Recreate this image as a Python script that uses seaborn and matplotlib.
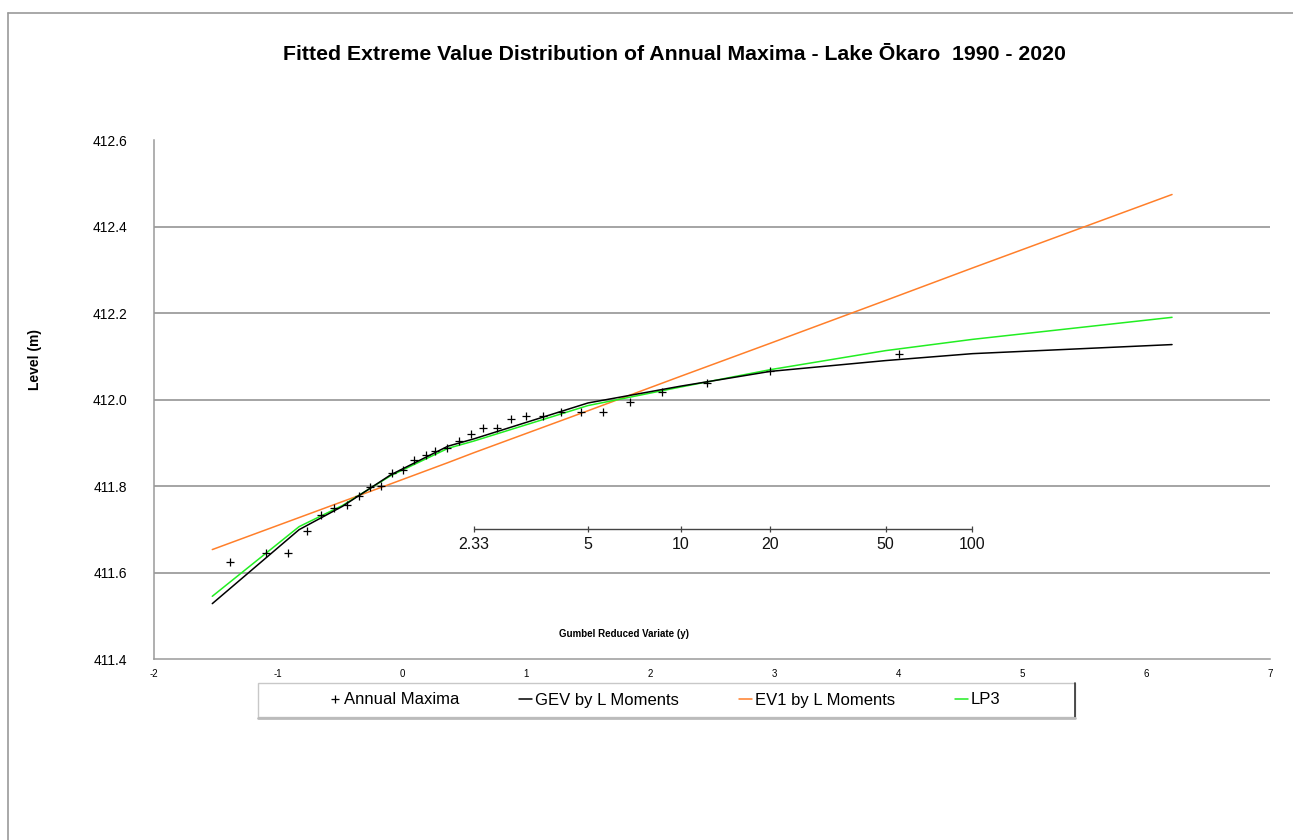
import matplotlib
matplotlib.use("Agg")
import matplotlib.pyplot as plt
import pandas as pd
import seaborn as sns
from matplotlib.lines import Line2D
from matplotlib.patches import Rectangle

# Annual maxima: Gumbel reduced variate and lake level (m)
obs_variate = [-1.39, -1.10, -0.92, -0.77, -0.65, -0.55, -0.44, -0.35, -0.26, -0.17,
               -0.08, 0.01, 0.10, 0.19, 0.27, 0.36, 0.46, 0.56, 0.65, 0.77,
               0.88, 1.00, 1.14, 1.28, 1.44, 1.62, 1.84, 2.10, 2.46, 2.97, 4.01]
obs_level = [411.625, 411.646, 411.646, 411.695, 411.732, 411.748, 411.757, 411.776,
             411.797, 411.801, 411.831, 411.838, 411.861, 411.871, 411.882, 411.889,
             411.905, 411.921, 411.933, 411.935, 411.956, 411.961, 411.963, 411.970,
             411.972, 411.972, 411.995, 412.018, 412.037, 412.067, 412.106]

# Fitted distributions evaluated at fixed reduced variates
fit_variate = [-1.53, -0.83, -0.48, -0.09, 0.37, 0.58, 1.50, 2.25, 2.97, 3.90, 4.60, 6.21]
gev_level = [411.528, 411.699, 411.753, 411.826, 411.892, 411.909, 411.992,
             412.031, 412.065, 412.090, 412.106, 412.127]
ev1_level = [411.653, 411.727, 411.764, 411.805, 411.854, 411.877, 411.974,
             412.054, 412.130, 412.229, 412.304, 412.474]
lp3_level = [411.545, 411.706, 411.755, 411.824, 411.887, 411.904, 411.986,
             412.029, 412.069, 412.113, 412.139, 412.190]

# Return period scale (years) placed at its reduced variate
rp_labels = ["2.33", "5", "10", "20", "50", "100"]
rp_variate = [0.58, 1.50, 2.25, 2.97, 3.90, 4.60]
rp_level = 411.70

y_ticks = [411.4, 411.6, 411.8, 412.0, 412.2, 412.4, 412.6]
x_ticks = [-2, -1, 0, 1, 2, 3, 4, 5, 6, 7]

GEV_C, EV1_C, LP3_C = "#000000", "#FF7F2A", "#22EE22"

sns.set_theme(style="white")
plt.rcParams["font.family"] = ["Liberation Sans", "DejaVu Sans"]
plt.rcParams["text.color"] = "black"
plt.rcParams["xtick.color"] = "black"
plt.rcParams["ytick.color"] = "black"

W, H = 1293, 840
fig = plt.figure(figsize=(W / 100, H / 100), dpi=100)
fig.patch.set_facecolor("white")

# outer chart border (top and left edges)
fig.add_artist(Line2D([8 / W, 1.0], [1 - 13 / H, 1 - 13 / H], color="#9a9a9a", lw=1.2))
fig.add_artist(Line2D([8 / W, 8 / W], [0.0, 1 - 13 / H], color="#9a9a9a", lw=1.2))

ax = fig.add_axes([154 / W, 181 / H, 1116 / W, 519 / H])

fits = pd.DataFrame({"variate": fit_variate, "GEV": gev_level,
                     "EV1": ev1_level, "LP3": lp3_level})
obs = pd.DataFrame({"variate": obs_variate, "level": obs_level})

for col, c in [("EV1", EV1_C), ("LP3", LP3_C), ("GEV", GEV_C)]:
    sns.lineplot(data=fits, x="variate", y=col, color=c, lw=1.1, sort=False,
                 ax=ax, legend=False, zorder=3)

sns.scatterplot(data=obs, x="variate", y="level", marker="+", color="black",
                s=32, linewidth=0.9, ax=ax, legend=False, zorder=4)

# return period scale
ax.plot([rp_variate[0], rp_variate[-1]], [rp_level, rp_level], color="#444444", lw=1, zorder=2)
ax.plot(rp_variate, [rp_level] * len(rp_variate), ls="none", marker="|",
        color="#444444", ms=4, mew=0.9, zorder=2)
for v, lab in zip(rp_variate, rp_labels):
    ax.text(v, rp_level - 0.035, lab, ha="center", va="center", fontsize=11.5, color="#111111")

ax.set_xlim(-2, 7)
ax.set_ylim(411.4, 412.6)
ax.set_xticks(x_ticks)
ax.set_xticklabels([str(t) for t in x_ticks], fontsize=7)
ax.set_yticks(y_ticks)
ax.set_yticklabels([f"{t:.1f}" for t in y_ticks], fontsize=10)
for t in y_ticks[1:-1]:
    ax.axhline(t, color="#8c8c8c", lw=1.1, zorder=1)
ax.set_xlabel("")
ax.set_ylabel("")
ax.tick_params(axis="x", direction="out", length=4, width=0.8, color="#8c8c8c", pad=3)
ax.tick_params(axis="y", direction="out", length=0, pad=19)
for s in ["top", "right"]:
    ax.spines[s].set_visible(False)
for s in ["left", "bottom"]:
    ax.spines[s].set_color("#9a9a9a")
    ax.spines[s].set_linewidth(1.1)

ax.text((624 - 154) / 1116, (659 - 634) / 519, "Gumbel Reduced Variate (y)",
        transform=ax.transAxes, ha="center", va="center", fontsize=7, fontweight="bold")

fig.text(674 / W, 1 - 55 / H,
         "Fitted Extreme Value Distribution of Annual Maxima - Lake Ōkaro  1990 - 2020",
         ha="center", va="center", fontsize=15.3, fontweight="bold")
fig.text(35 / W, 1 - 360 / H, "Level (m)", rotation=90, ha="center", va="center",
         fontsize=10, fontweight="bold")

# legend box with a light drop shadow
fig.add_artist(Rectangle((258 / W, 1 - 717 / H), 817 / W, 34 / H, transform=fig.transFigure,
                         facecolor="white", edgecolor="#c8c8c8", lw=1.0, zorder=5))
fig.add_artist(Line2D([1075 / W, 1075 / W], [1 - 717 / H, 1 - 683 / H], color="#333333", lw=1.2, zorder=6))
fig.add_artist(Line2D([258 / W, 1075 / W], [1 - 717.5 / H, 1 - 717.5 / H], color="#bbbbbb", lw=2.0, zorder=6))

handles = [Line2D([], [], marker="+", ls="none", color="black", ms=6, mew=0.9),
           Line2D([], [], color=GEV_C, lw=1.1),
           Line2D([], [], color=EV1_C, lw=1.1),
           Line2D([], [], color=LP3_C, lw=1.1)]
labels = ["Annual Maxima", "GEV by L Moments", "EV1 by L Moments", "LP3"]
leg = fig.legend(handles, labels, loc="center", bbox_to_anchor=(664 / W, 1 - 700 / H),
                 ncol=4, frameon=False, fontsize=12, handlelength=0.8, handletextpad=0.15,
                 columnspacing=3.6)
leg.set_zorder(7)

fig.savefig("out.png", dpi=100, facecolor="white")
